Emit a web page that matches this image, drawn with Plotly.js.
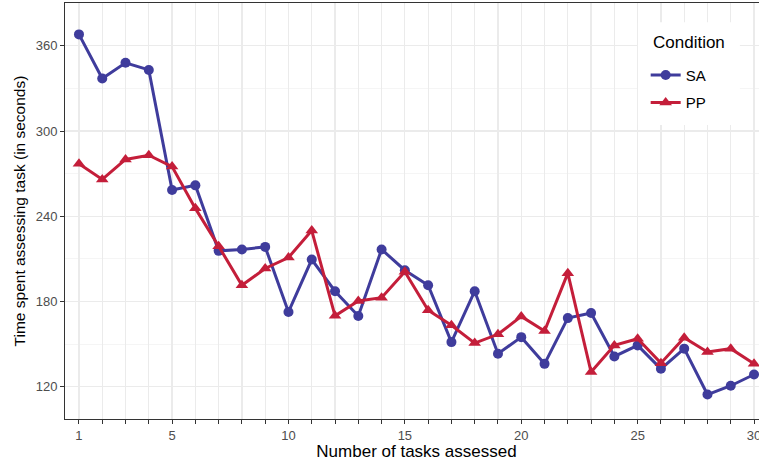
<!DOCTYPE html>
<html>
<head>
<meta charset="utf-8">
<script src="https://cdn.plot.ly/plotly-3.0.1.min.js"></script>
<style>
html,body{margin:0;padding:0;overflow:hidden;background:#fff;width:759px;height:461px;}
#chart{width:770px;height:461px;}
</style>
</head>
<body>
<div id="chart"></div>
<script>
var tasks = [1,2,3,4,5,6,7,8,9,10,11,12,13,14,15,16,17,18,19,20,21,22,23,24,25,26,27,28,29,30];
var saTime = [368,337,348,343,258.5,261.8,215.7,216.7,218.5,172.7,209.6,187.3,169.9,216.7,202.1,191.5,151.5,187.3,143.3,155,136.2,168.4,172,141.4,149.2,132.7,146.9,114.6,120.8,128.7];
var ppTime = [277,266,280,283,275,245.6,219,191.5,203.3,211,230,170,180.4,182.8,201,173.9,163.3,150.8,157,169.6,159.3,200,130.4,149.2,153.9,136.7,154.6,144.5,146.9,136.2];
var xTickVals = tasks;
var xTickText = tasks.map(function(t){ return (t===1 || t%5===0) ? String(t) : ''; });
var seriesNames = ['SA','PP'];
var legendTitle = 'Condition';

var blue = '#3f3c9c', red = '#c41e3a';
var traces = [
  {x: tasks, y: saTime, name: seriesNames[0], legendgroup:'a', type:'scatter', mode:'lines+markers',
   line:{color:blue, width:3}, marker:{color:blue, size:10, symbol:'circle'}},
  {x: tasks, y: ppTime, name: seriesNames[1], legendgroup:'b', type:'scatter', mode:'lines+markers',
   line:{color:red, width:3}, marker:{color:red, size:11, symbol:'triangle-up'}}
];
var layout = {
  width: 770, height: 461,
  margin:{l:65, r:2, t:3, b:42},
  paper_bgcolor:'#fff', plot_bgcolor:'#fff',
  font:{family:'Liberation Sans, Arial, sans-serif', color:'#000'},
  showlegend:true,
  legend:{x:0.826, y:0.866, xanchor:'left', yanchor:'top', bgcolor:'rgba(0,0,0,0)',
    font:{size:15, color:'#000'}, tracegroupgap:5, itemwidth:30},
  shapes:[{type:'rect', xref:'paper', yref:'paper', x0:0.815, x1:0.96, y0:0.707, y1:0.954,
    fillcolor:'#fff', line:{width:0}, layer:'above'}],
  annotations:[{text:legendTitle, xref:'paper', yref:'paper', x:0.8336, y:0.904,
    xanchor:'left', yanchor:'middle', showarrow:false, font:{size:17, color:'#000'}}],
  xaxis:{range:[0.4,30.6], tickvals:xTickVals, ticktext:xTickText, ticks:'outside', ticklen:4,
    tickcolor:'#333', tickfont:{size:13, color:'#4d4d4d'}, showgrid:true, gridcolor:'#ebebeb', gridwidth:1.2,
    zeroline:false, showline:true, linecolor:'#333', linewidth:1, mirror:true,
    title:{text:'Number of tasks assessed', font:{size:17, color:'#000'}, standoff:4}},
  yaxis:{range:[97.4,390.1], tick0:0, dtick:60, ticks:'outside', ticklen:4, tickcolor:'#333',
    tickfont:{size:13, color:'#4d4d4d'}, showgrid:true, gridcolor:'#ebebeb', gridwidth:1.2,
    minor:{dtick:30, tick0:0, showgrid:true, gridcolor:'#f3f3f3', gridwidth:0.8},
    zeroline:false, showline:true, linecolor:'#333', linewidth:1, mirror:true,
    title:{text:'Time spent assessing task (in seconds)', font:{size:15.5, color:'#000'}, standoff:6}}
};
Plotly.newPlot('chart', traces, layout, {displayModeBar:false, staticPlot:true});
</script>
</body>
</html>
